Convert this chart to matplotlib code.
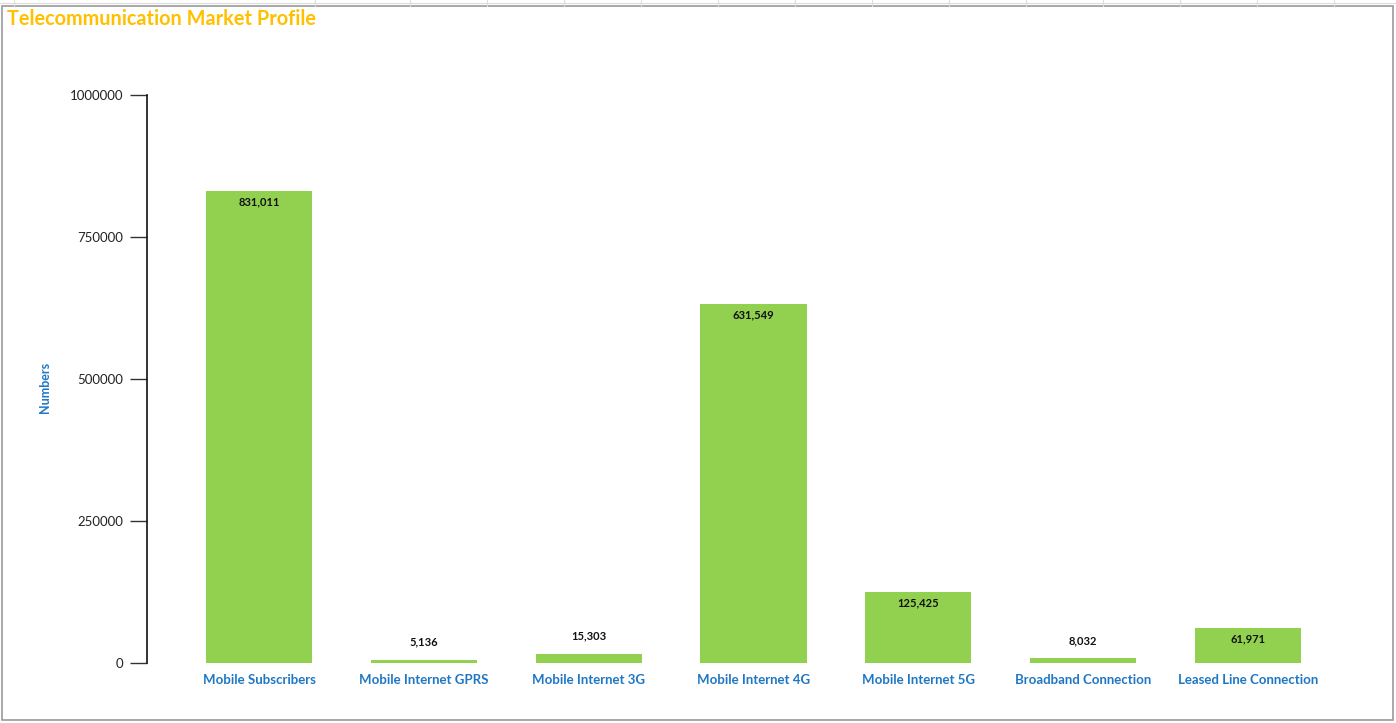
import matplotlib
matplotlib.use("Agg")
import matplotlib.pyplot as plt
from matplotlib.patches import Rectangle
from matplotlib.lines import Line2D

categories = ["Mobile Subscribers", "Mobile Internet GPRS", "Mobile Internet 3G",
              "Mobile Internet 4G", "Mobile Internet 5G", "Broadband Connection",
              "Leased Line Connection"]
values = [831011, 5136, 15303, 631549, 125425, 8032, 61971]
yticks = [0, 250000, 500000, 750000, 1000000]

plt.rcParams['font.family'] = ['Lato', 'DejaVu Sans']

W, H = 1396, 723
fig = plt.figure(figsize=(W / 100, H / 100), dpi=100)

# spreadsheet-like faint grid outside the chart frame
for x in [14, 315, 410, 487, 564, 641, 718, 795, 872, 949, 1026, 1103, 1180, 1257, 1334]:
    fig.add_artist(Line2D([x / W, x / W], [1 - 0 / H, 1 - 6 / H], color="#dcdcdc", lw=0.8))
fig.add_artist(Line2D([0, 1], [1 - 3 / H, 1 - 3 / H], color="#dcdcdc", lw=0.8))
# chart border
fig.add_artist(Rectangle((2 / W, 1 - 720 / H), (1393 - 2) / W, (720 - 6) / H,
                         fill=False, edgecolor="#999999", lw=1.2))

left_px, right_px, top_px, bot_px = 147, 1360, 95, 663
ax = fig.add_axes([left_px / W, 1 - bot_px / H, (right_px - left_px) / W, (bot_px - top_px) / H])

x = list(range(len(categories)))
bars = ax.bar(x, values, width=0.645, color="#92D050", edgecolor="none")

ax.set_xlim(-0.68, len(categories) - 1 + 0.68)
ax.set_ylim(0, 1000000)
ax.set_yticks(yticks)
ax.set_yticklabels([str(v) for v in yticks], fontsize=9.5, color="#222222")
ax.set_xticks(x)
ax.set_xticklabels(categories, fontsize=9.5, fontweight="bold", color="#1F77C4")
ax.tick_params(axis="x", length=0, pad=8)
ax.tick_params(axis="y", length=12, width=1, color="#333333", pad=5)

for s in ["top", "right", "bottom"]:
    ax.spines[s].set_visible(False)
ax.spines["left"].set_color("#111111")
ax.spines["left"].set_linewidth(1.2)

for xi, v in zip(x, values):
    label = f"{v:,}"
    if v > 50000:
        ax.annotate(label, (xi, v), xytext=(0, -4), textcoords="offset points",
                    ha="center", va="top", fontsize=8, fontweight="bold", color="#111111")
    else:
        ax.annotate(label, (xi, v), xytext=(0, 9), textcoords="offset points",
                    ha="center", va="bottom", fontsize=8, fontweight="bold", color="#111111")

fig.text(45 / W, 1 - 387 / H, "Numbers", rotation=90, ha="center", va="center",
         fontsize=9, fontweight="bold", color="#1F77C4")
fig.text(7 / W, 1 - 19 / H, "Telecommunication Market Profile", ha="left", va="center",
         fontsize=14.3, fontweight="bold", color="#FFC000")

fig.savefig("out.png", dpi=100)
